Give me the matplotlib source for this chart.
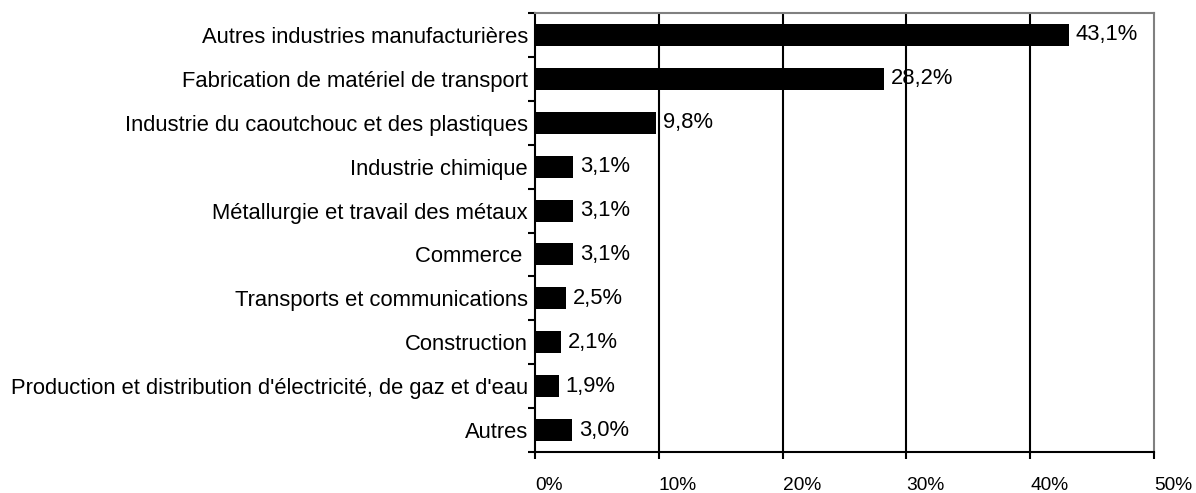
import matplotlib.pyplot as plt

plt.rcParams['font.family'] = ['Liberation Sans', 'DejaVu Sans']

categories = ["Autres industries manufacturières",
              "Fabrication de matériel de transport",
              "Industrie du caoutchouc et des plastiques",
              "Industrie chimique",
              "Métallurgie et travail des métaux",
              "Commerce ",
              "Transports et communications",
              "Construction",
              "Production et distribution d'électricité, de gaz et d'eau",
              "Autres"]
values = [43.1, 28.2, 9.8, 3.1, 3.1, 3.1, 2.5, 2.1, 1.9, 3.0]
labels = ["43,1%", "28,2%", "9,8%", "3,1%", "3,1%", "3,1%", "2,5%", "2,1%", "1,9%", "3,0%"]
xticks = [0, 10, 20, 30, 40, 50]
xtick_labels = ["0%", "10%", "20%", "30%", "40%", "50%"]

fs = 15.8

fig = plt.figure(figsize=(11.96, 4.93), dpi=100)
ax = fig.add_axes([535 / 1196, 1 - 452 / 493, (1154 - 535) / 1196, (452 - 13) / 493])

pos = list(range(len(categories)))
ax.barh(pos, values, height=0.5, color='black', zorder=3)
for p, v, lab in zip(pos, values, labels):
    ax.text(v + 0.55, p, lab, va='center', ha='left', fontsize=fs, zorder=4)

ax.set_xlim(0, 50)
ax.set_ylim(len(categories) - 0.5, -0.5)

ax.set_xticks(xticks)
ax.set_xticklabels(xtick_labels, fontsize=13.8, ha='left')
ax.tick_params(axis='x', length=5, width=1.5, pad=13, direction='out')

# category labels centered, ticks between categories
ax.set_yticks(pos)
ax.set_yticklabels(categories, fontsize=fs)
ax.tick_params(axis='y', which='major', length=0, pad=5)
ax.set_yticks([p - 0.5 for p in pos] + [len(pos) - 0.5], minor=True)
ax.tick_params(axis='y', which='minor', length=5, width=1.5, direction='out')

for x in xticks[1:-1]:
    ax.axvline(x, color='black', lw=1.5, zorder=1)

ax.spines['left'].set_linewidth(1.5)
ax.spines['bottom'].set_linewidth(1.5)
ax.spines['top'].set_color('#808080')
ax.spines['right'].set_color('#808080')
ax.spines['top'].set_linewidth(1.5)
ax.spines['right'].set_linewidth(1.5)

fig.savefig('out.png', dpi=100)
